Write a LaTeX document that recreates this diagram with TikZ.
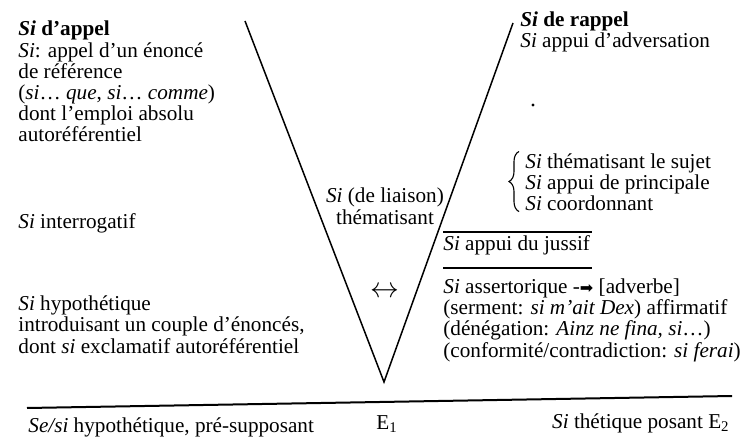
\documentclass[tikz,border=0pt]{standalone}
\usepackage{fontspec}
\setmainfont{Liberation Serif}
\newfontfamily\symfont{DejaVu Sans}
\usetikzlibrary{positioning, decorations.pathreplacing}
\tikzstyle{txt} = [anchor=base west, inner sep=0pt, align=left, font=\fontsize{10.6}{10.6}\selectfont]
\tikzstyle{vline} = [line width=0.75pt]
\tikzstyle{rule} = [line width=1pt]

\begin{document}
\begin{tikzpicture}[x=0.5pt, y=-0.5pt]
\useasboundingbox (0,0) rectangle (743,438);

% V
\coordinate (vleft) at (245,21);
\coordinate (vright) at (513,23);
\coordinate (vbottom) at (384,382);
\draw[vline] (vleft) -- (vbottom) -- (vright);

% Left column (base = last line)
\node[txt] (appel) at (18,142) {\textbf{\textit{Si} d’appel}\\ \textit{Si}: appel d’un énoncé\\ de référence\\ (\textit{si}… \textit{que}, \textit{si}… \textit{comme})\\ dont l’emploi absolu\\ autoréférentiel};
\node[txt] (interrog) at (18,228) {\textit{Si} interrogatif};
\node[txt] (hypo) at (18,353) {\textit{Si} hypothétique\\ introduisant un couple d’énoncés,\\ dont \textit{si} exclamatif autoréférentiel};

% Inside the V
\node[txt, anchor=base, align=center] (liaison) at (385,224) {\textit{Si} (de liaison)\\ thématisant};
\node[inner sep=0pt, font=\fontsize{15}{15}\selectfont] (echange) at (385,292) {$\leftrightarrow$};

% Right column
\node[txt] (rappel) at (520,48) {\textbf{\textit{Si} de rappel}\\ \textit{Si} appui d’adversation};
\node[circle, fill, inner sep=0.6pt] (point) at (533,105) {};
\node[txt] (theme) at (525,211) {\textit{Si} thématisant le sujet\\ \textit{Si} appui de principale\\ \textit{Si} coordonnant};
\draw[line width=0.55pt, decorate, decoration={brace, amplitude=5pt}]
  ([xshift=-3pt]theme.south west) -- ([xshift=-3pt, yshift=1pt]theme.north west);

\coordinate (ra) at (443,232);
\coordinate (rb) at (592,232);
\draw[rule] (ra) -- (rb);
\node[txt] (jussif) at (443,250) {\textit{Si} appui du jussif};
\coordinate (rc) at (443,268);
\coordinate (rd) at (592,268);
\draw[rule] (rc) -- (rd);
\node[txt] (assert) at (443,357) {\textit{Si} assertorique -{\symfont\fontsize{8}{8}\selectfont ➡} [adverbe]\\ (serment: \textit{si m’ait Dex}) affirmatif\\ (dénégation: \textit{Ainz ne fina, si}…)\\ (conformité/contradiction: \textit{si ferai})};

% Bottom line
\coordinate (bleft) at (27,408);
\coordinate (bright) at (732,396);
\draw[rule] (bleft) -- (bright);
\node[txt] (suppose) at (28,432) {\textit{Se/si} hypothétique, pré-supposant};
\node[txt, anchor=base] (eun) at (387,429) {E\textsubscript{1}};
\node[txt, anchor=base east] (thetique) at (730,428) {\textit{Si} thétique posant E\textsubscript{2}};
\end{tikzpicture}
\end{document}
